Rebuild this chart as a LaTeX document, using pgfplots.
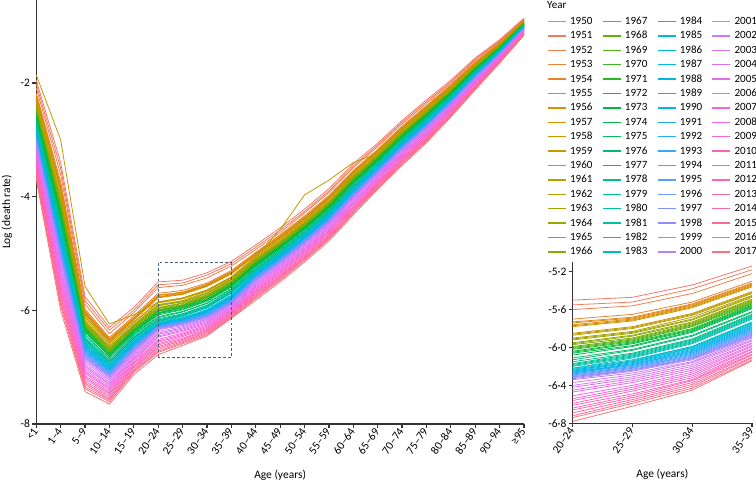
\documentclass[border=0pt]{standalone}
\usepackage{pgfplots}
\pgfplotsset{compat=1.18}
\usepackage{pgfplotstable}
\usepackage{fontspec}
\setmainfont{Carlito}

\definecolor{h0}{HTML}{F8766D}
\definecolor{h1}{HTML}{DE8C00}
\definecolor{h2}{HTML}{B79F00}
\definecolor{h3}{HTML}{7CAE00}
\definecolor{h4}{HTML}{00BA38}
\definecolor{h5}{HTML}{00C08B}
\definecolor{h6}{HTML}{00BFC4}
\definecolor{h7}{HTML}{00B4F0}
\definecolor{h8}{HTML}{619CFF}
\definecolor{h9}{HTML}{C77CFF}
\definecolor{h10}{HTML}{F564E3}
\definecolor{h11}{HTML}{FF64B0}
\definecolor{axc}{HTML}{333333}
\definecolor{boxc}{HTML}{48606E}

\foreach \i in {0,...,67}{%
  \pgfmathtruncatemacro{\yr}{1950+\i}%
  \pgfmathsetmacro{\pos}{\i*12/68}%
  \pgfmathtruncatemacro{\j}{floor(\pos)}%
  \pgfmathtruncatemacro{\k}{mod(\j+1,12)}%
  \pgfmathtruncatemacro{\pct}{round(100*(1+\j-\pos))}%
  \edef\tmp{\noexpand\xglobal\noexpand\colorlet{c\yr}{h\j!\pct!h\k}}\tmp
}

\pgfplotstableread{
x y1950 y1951 y1952 y1953 y1954 y1955 y1956 y1957 y1958 y1959 y1960 y1961 y1962 y1963 y1964 y1965 y1966 y1967 y1968 y1969 y1970 y1971 y1972 y1973 y1974 y1975 y1976 y1977 y1978 y1979 y1980 y1981 y1982 y1983 y1984 y1985 y1986 y1987 y1988 y1989 y1990 y1991 y1992 y1993 y1994 y1995 y1996 y1997 y1998 y1999 y2000 y2001 y2002 y2003 y2004 y2005 y2006 y2007 y2008 y2009 y2010 y2011 y2012 y2013 y2014 y2015 y2016 y2017
0 -1.95 -2.02 -2.09 -2.18 -2.21 -2.23 -2.25 -2.26 -2.28 -2.32 -1.86 -2.35 -2.39 -2.40 -2.42 -2.44 -2.46 -2.47 -2.49 -2.51 -2.53 -2.54 -2.56 -2.58 -2.60 -2.61 -2.65 -2.67 -2.70 -2.72 -2.74 -2.75 -2.77 -2.79 -2.81 -2.82 -2.84 -2.86 -2.88 -2.89 -2.91 -2.93 -2.95 -2.96 -2.98 -3.00 -3.02 -3.03 -3.05 -3.07 -3.09 -3.12 -3.16 -3.19 -3.23 -3.26 -3.30 -3.33 -3.37 -3.40 -3.44 -3.47 -3.51 -3.54 -3.58 -3.61 -3.65 -3.70
1 -3.40 -3.50 -3.61 -3.74 -3.79 -3.82 -3.84 -3.87 -3.89 -3.95 -3.00 -4.00 -4.05 -4.08 -4.10 -4.13 -4.15 -4.18 -4.21 -4.23 -4.26 -4.28 -4.31 -4.34 -4.36 -4.39 -4.44 -4.47 -4.52 -4.54 -4.57 -4.60 -4.62 -4.65 -4.67 -4.70 -4.73 -4.75 -4.78 -4.80 -4.83 -4.86 -4.88 -4.91 -4.93 -4.96 -4.99 -5.01 -5.04 -5.06 -5.09 -5.14 -5.19 -5.25 -5.30 -5.35 -5.40 -5.45 -5.51 -5.56 -5.61 -5.66 -5.71 -5.77 -5.82 -5.87 -5.92 -6.00
2 -5.76 -5.83 -5.89 -5.98 -6.01 -6.03 -6.04 -6.06 -6.08 -6.11 -5.58 -6.14 -6.18 -6.19 -6.21 -6.23 -6.24 -6.26 -6.28 -6.29 -6.31 -6.33 -6.34 -6.36 -6.38 -6.39 -6.43 -6.44 -6.48 -6.49 -6.51 -6.53 -6.54 -6.56 -6.58 -6.60 -6.61 -6.63 -6.65 -6.66 -6.68 -6.70 -6.71 -6.73 -6.75 -6.76 -6.78 -6.80 -6.81 -6.83 -6.85 -6.88 -6.91 -6.95 -6.98 -7.01 -7.05 -7.08 -7.11 -7.15 -7.18 -7.21 -7.25 -7.28 -7.31 -7.35 -7.38 -7.43
3 -6.30 -6.35 -6.41 -6.48 -6.50 -6.52 -6.53 -6.54 -6.56 -6.58 -6.24 -6.61 -6.64 -6.65 -6.66 -6.68 -6.69 -6.70 -6.72 -6.73 -6.75 -6.76 -6.77 -6.79 -6.80 -6.81 -6.84 -6.85 -6.88 -6.89 -6.91 -6.92 -6.93 -6.95 -6.96 -6.97 -6.99 -7.00 -7.02 -7.03 -7.04 -7.06 -7.07 -7.08 -7.10 -7.11 -7.12 -7.14 -7.15 -7.16 -7.18 -7.20 -7.23 -7.26 -7.29 -7.31 -7.34 -7.37 -7.39 -7.42 -7.45 -7.47 -7.50 -7.53 -7.56 -7.58 -7.61 -7.65
4 -5.95 -6.00 -6.04 -6.10 -6.13 -6.14 -6.15 -6.16 -6.17 -6.20 -6.08 -6.22 -6.25 -6.26 -6.27 -6.28 -6.29 -6.30 -6.32 -6.33 -6.34 -6.35 -6.36 -6.37 -6.39 -6.40 -6.42 -6.43 -6.46 -6.47 -6.48 -6.49 -6.50 -6.52 -6.53 -6.54 -6.55 -6.56 -6.58 -6.59 -6.60 -6.61 -6.62 -6.63 -6.65 -6.66 -6.67 -6.68 -6.69 -6.71 -6.72 -6.74 -6.76 -6.79 -6.81 -6.84 -6.86 -6.88 -6.91 -6.93 -6.95 -6.98 -7.00 -7.02 -7.05 -7.07 -7.09 -7.13
5 -5.50 -5.55 -5.60 -5.70 -5.73 -5.74 -5.76 -5.77 -5.78 -5.85 -5.86 -5.87 -5.90 -5.91 -5.92 -5.95 -5.96 -5.97 -5.99 -6.00 -6.01 -6.02 -6.04 -6.05 -6.06 -6.08 -6.11 -6.13 -6.15 -6.17 -6.18 -6.19 -6.20 -6.22 -6.22 -6.23 -6.24 -6.24 -6.25 -6.26 -6.26 -6.27 -6.27 -6.28 -6.29 -6.29 -6.30 -6.31 -6.31 -6.32 -6.33 -6.34 -6.37 -6.40 -6.42 -6.45 -6.47 -6.51 -6.54 -6.56 -6.59 -6.61 -6.64 -6.66 -6.69 -6.72 -6.74 -6.78
6 -5.47 -5.52 -5.56 -5.65 -5.68 -5.69 -5.70 -5.71 -5.72 -5.78 -5.79 -5.80 -5.83 -5.84 -5.85 -5.87 -5.88 -5.90 -5.91 -5.92 -5.93 -5.94 -5.95 -5.96 -5.98 -5.99 -6.02 -6.03 -6.06 -6.07 -6.08 -6.09 -6.10 -6.11 -6.13 -6.14 -6.15 -6.15 -6.16 -6.17 -6.18 -6.18 -6.19 -6.20 -6.21 -6.21 -6.22 -6.23 -6.24 -6.24 -6.25 -6.27 -6.29 -6.31 -6.33 -6.35 -6.37 -6.40 -6.42 -6.44 -6.46 -6.49 -6.51 -6.53 -6.55 -6.57 -6.59 -6.62
7 -5.34 -5.38 -5.43 -5.52 -5.54 -5.55 -5.56 -5.57 -5.58 -5.64 -5.65 -5.66 -5.68 -5.70 -5.71 -5.73 -5.74 -5.75 -5.76 -5.77 -5.78 -5.80 -5.81 -5.82 -5.83 -5.84 -5.87 -5.88 -5.91 -5.92 -5.93 -5.94 -5.95 -5.96 -5.99 -5.99 -6.00 -6.01 -6.02 -6.03 -6.04 -6.05 -6.06 -6.07 -6.08 -6.09 -6.10 -6.11 -6.11 -6.12 -6.13 -6.15 -6.16 -6.18 -6.20 -6.22 -6.24 -6.26 -6.28 -6.30 -6.32 -6.34 -6.35 -6.37 -6.39 -6.41 -6.43 -6.45
8 -5.14 -5.18 -5.22 -5.30 -5.32 -5.33 -5.34 -5.35 -5.36 -5.41 -5.42 -5.43 -5.45 -5.46 -5.47 -5.49 -5.50 -5.51 -5.52 -5.53 -5.54 -5.55 -5.56 -5.57 -5.58 -5.59 -5.62 -5.63 -5.65 -5.66 -5.67 -5.68 -5.69 -5.70 -5.73 -5.74 -5.75 -5.76 -5.77 -5.78 -5.79 -5.80 -5.81 -5.82 -5.83 -5.84 -5.85 -5.86 -5.87 -5.88 -5.89 -5.90 -5.92 -5.93 -5.95 -5.96 -5.98 -5.99 -6.01 -6.02 -6.04 -6.05 -6.07 -6.08 -6.10 -6.11 -6.13 -6.14
9 -4.85 -4.89 -4.93 -4.98 -5.00 -5.01 -5.01 -5.02 -5.03 -5.05 -5.06 -5.07 -5.09 -5.10 -5.11 -5.12 -5.13 -5.14 -5.15 -5.16 -5.17 -5.18 -5.19 -5.20 -5.21 -5.22 -5.24 -5.25 -5.27 -5.28 -5.29 -5.30 -5.31 -5.32 -5.33 -5.34 -5.34 -5.35 -5.36 -5.37 -5.38 -5.39 -5.40 -5.41 -5.42 -5.43 -5.44 -5.45 -5.46 -5.47 -5.48 -5.50 -5.52 -5.54 -5.56 -5.58 -5.60 -5.62 -5.64 -5.66 -5.67 -5.69 -5.71 -5.73 -5.75 -5.77 -5.79 -5.82
10 -4.55 -4.59 -4.63 -4.67 -4.69 -4.70 -4.71 -4.72 -4.73 -4.75 -4.58 -4.77 -4.79 -4.80 -4.81 -4.82 -4.83 -4.84 -4.84 -4.85 -4.86 -4.87 -4.88 -4.89 -4.90 -4.91 -4.93 -4.94 -4.96 -4.97 -4.98 -4.99 -5.00 -5.01 -5.02 -5.03 -5.03 -5.04 -5.05 -5.06 -5.07 -5.08 -5.09 -5.10 -5.11 -5.12 -5.13 -5.14 -5.15 -5.16 -5.17 -5.19 -5.21 -5.22 -5.24 -5.26 -5.28 -5.30 -5.32 -5.34 -5.36 -5.38 -5.40 -5.41 -5.43 -5.45 -5.47 -5.50
11 -4.22 -4.26 -4.29 -4.34 -4.36 -4.37 -4.38 -4.39 -4.40 -4.42 -3.97 -4.43 -4.45 -4.46 -4.47 -4.48 -4.49 -4.50 -4.51 -4.52 -4.53 -4.54 -4.55 -4.55 -4.56 -4.57 -4.59 -4.60 -4.62 -4.63 -4.64 -4.65 -4.66 -4.67 -4.68 -4.69 -4.69 -4.70 -4.71 -4.72 -4.73 -4.74 -4.75 -4.76 -4.77 -4.78 -4.79 -4.80 -4.81 -4.82 -4.82 -4.84 -4.86 -4.88 -4.90 -4.92 -4.94 -4.95 -4.97 -4.99 -5.01 -5.03 -5.05 -5.07 -5.08 -5.10 -5.12 -5.15
12 -3.86 -3.90 -3.93 -3.98 -4.00 -4.01 -4.02 -4.03 -4.03 -4.05 -3.71 -4.07 -4.09 -4.10 -4.11 -4.12 -4.13 -4.14 -4.15 -4.15 -4.16 -4.17 -4.18 -4.19 -4.20 -4.21 -4.23 -4.24 -4.26 -4.26 -4.27 -4.28 -4.29 -4.30 -4.31 -4.32 -4.33 -4.34 -4.35 -4.36 -4.37 -4.38 -4.38 -4.39 -4.40 -4.41 -4.42 -4.43 -4.44 -4.45 -4.46 -4.48 -4.49 -4.51 -4.53 -4.55 -4.57 -4.59 -4.61 -4.62 -4.64 -4.66 -4.68 -4.70 -4.72 -4.73 -4.75 -4.78
13 -3.42 -3.46 -3.49 -3.54 -3.56 -3.56 -3.57 -3.58 -3.59 -3.61 -3.40 -3.63 -3.65 -3.65 -3.66 -3.67 -3.68 -3.69 -3.70 -3.71 -3.72 -3.73 -3.74 -3.74 -3.75 -3.76 -3.78 -3.79 -3.81 -3.82 -3.83 -3.83 -3.84 -3.85 -3.86 -3.87 -3.88 -3.89 -3.90 -3.91 -3.92 -3.92 -3.93 -3.94 -3.95 -3.96 -3.97 -3.98 -3.99 -4.00 -4.01 -4.02 -4.04 -4.06 -4.08 -4.10 -4.11 -4.13 -4.15 -4.17 -4.19 -4.20 -4.22 -4.24 -4.26 -4.28 -4.29 -4.32
14 -3.06 -3.09 -3.12 -3.17 -3.18 -3.19 -3.20 -3.21 -3.21 -3.23 -3.24 -3.25 -3.26 -3.27 -3.28 -3.29 -3.29 -3.30 -3.31 -3.32 -3.33 -3.34 -3.34 -3.35 -3.36 -3.37 -3.38 -3.39 -3.41 -3.42 -3.42 -3.43 -3.44 -3.45 -3.46 -3.47 -3.47 -3.48 -3.49 -3.50 -3.51 -3.51 -3.52 -3.53 -3.54 -3.55 -3.55 -3.56 -3.57 -3.58 -3.59 -3.60 -3.62 -3.64 -3.65 -3.67 -3.68 -3.70 -3.72 -3.73 -3.75 -3.76 -3.78 -3.80 -3.81 -3.83 -3.85 -3.87
15 -2.66 -2.69 -2.72 -2.76 -2.78 -2.79 -2.79 -2.80 -2.81 -2.83 -2.83 -2.84 -2.86 -2.87 -2.87 -2.88 -2.89 -2.90 -2.90 -2.91 -2.92 -2.93 -2.94 -2.94 -2.95 -2.96 -2.98 -2.98 -3.00 -3.01 -3.02 -3.02 -3.03 -3.04 -3.05 -3.06 -3.06 -3.07 -3.08 -3.09 -3.09 -3.10 -3.11 -3.12 -3.13 -3.13 -3.14 -3.15 -3.16 -3.17 -3.17 -3.19 -3.21 -3.22 -3.24 -3.25 -3.27 -3.28 -3.30 -3.32 -3.33 -3.35 -3.36 -3.38 -3.39 -3.41 -3.43 -3.45
16 -2.30 -2.33 -2.36 -2.40 -2.41 -2.42 -2.43 -2.44 -2.44 -2.46 -2.47 -2.47 -2.49 -2.50 -2.50 -2.51 -2.52 -2.53 -2.53 -2.54 -2.55 -2.56 -2.56 -2.57 -2.58 -2.59 -2.60 -2.61 -2.62 -2.63 -2.64 -2.65 -2.65 -2.66 -2.67 -2.68 -2.68 -2.69 -2.70 -2.71 -2.71 -2.72 -2.73 -2.74 -2.74 -2.75 -2.76 -2.77 -2.77 -2.78 -2.79 -2.80 -2.82 -2.83 -2.85 -2.86 -2.88 -2.89 -2.91 -2.92 -2.94 -2.95 -2.97 -2.98 -3.00 -3.01 -3.03 -3.05
17 -1.95 -1.98 -2.00 -2.03 -2.05 -2.05 -2.06 -2.07 -2.07 -2.09 -2.09 -2.10 -2.11 -2.12 -2.13 -2.13 -2.14 -2.15 -2.15 -2.16 -2.16 -2.17 -2.18 -2.18 -2.19 -2.20 -2.21 -2.22 -2.23 -2.24 -2.24 -2.25 -2.26 -2.26 -2.27 -2.28 -2.28 -2.29 -2.29 -2.30 -2.31 -2.31 -2.32 -2.33 -2.33 -2.34 -2.35 -2.35 -2.36 -2.37 -2.37 -2.39 -2.40 -2.41 -2.42 -2.44 -2.45 -2.46 -2.48 -2.49 -2.50 -2.52 -2.53 -2.54 -2.55 -2.57 -2.58 -2.60
18 -1.56 -1.58 -1.60 -1.63 -1.64 -1.65 -1.66 -1.66 -1.67 -1.68 -1.68 -1.69 -1.70 -1.71 -1.71 -1.72 -1.72 -1.73 -1.73 -1.74 -1.74 -1.75 -1.76 -1.76 -1.77 -1.77 -1.78 -1.79 -1.80 -1.81 -1.81 -1.82 -1.82 -1.83 -1.83 -1.84 -1.85 -1.85 -1.86 -1.86 -1.87 -1.87 -1.88 -1.88 -1.89 -1.90 -1.90 -1.91 -1.91 -1.92 -1.92 -1.94 -1.95 -1.96 -1.97 -1.98 -1.99 -2.00 -2.01 -2.02 -2.04 -2.05 -2.06 -2.07 -2.08 -2.09 -2.10 -2.12
19 -1.24 -1.26 -1.27 -1.29 -1.30 -1.31 -1.31 -1.31 -1.32 -1.33 -1.33 -1.33 -1.34 -1.35 -1.35 -1.35 -1.36 -1.36 -1.37 -1.37 -1.38 -1.38 -1.38 -1.39 -1.39 -1.40 -1.40 -1.41 -1.42 -1.42 -1.42 -1.43 -1.43 -1.44 -1.44 -1.45 -1.45 -1.45 -1.46 -1.46 -1.47 -1.47 -1.47 -1.48 -1.48 -1.49 -1.49 -1.49 -1.50 -1.50 -1.51 -1.51 -1.52 -1.53 -1.54 -1.55 -1.56 -1.56 -1.57 -1.58 -1.59 -1.60 -1.60 -1.61 -1.62 -1.63 -1.64 -1.65
20 -0.86 -0.87 -0.88 -0.90 -0.90 -0.91 -0.91 -0.91 -0.92 -0.92 -0.93 -0.93 -0.93 -0.94 -0.94 -0.94 -0.95 -0.95 -0.95 -0.96 -0.96 -0.96 -0.96 -0.97 -0.97 -0.97 -0.98 -0.98 -0.99 -0.99 -0.99 -1.00 -1.00 -1.00 -1.01 -1.01 -1.01 -1.02 -1.02 -1.02 -1.02 -1.03 -1.03 -1.03 -1.04 -1.04 -1.04 -1.05 -1.05 -1.05 -1.05 -1.06 -1.07 -1.07 -1.08 -1.08 -1.09 -1.10 -1.10 -1.11 -1.11 -1.12 -1.13 -1.13 -1.14 -1.14 -1.15 -1.16
}\data

\pgfplotsset{
  myax/.style={
    scale only axis,
    axis x line*=bottom, axis y line*=left,
    axis line style={-, draw=axc, line width=0.9pt},
    tick align=outside, major tick length=3pt,
    tick style={axc, line width=0.9pt},
    ticklabel style={font=\fontsize{8.6}{10}\selectfont, text=black},
    xticklabel style={rotate=55, anchor=east, inner sep=1pt},
    yticklabel style={inner sep=1.5pt},
    label style={font=\fontsize{8.6}{10}\selectfont},
  }
}

\begin{document}
\begin{tikzpicture}
\path[use as bounding box] (0,0) rectangle (567pt,360.75pt);
\begin{axis}[myax,
  width=365.8pt, height=318pt,
  at={(27.2pt,42.75pt)}, anchor=south west,
  xmin=0, xmax=20, ymin=-8, ymax=-0.54,
  clip=false,
  xtick={0,...,20},
  xticklabels={<1,1–4,5–9,10–14,15–19,20–24,25–29,30–34,35–39,40–44,45–49,50–54,55–59,60–64,65–69,70–74,75–79,80–84,85–89,90–94,≥95},
  ytick={-8,-6,-4,-2}, yticklabels={-8,-6,-4,-2},
  xlabel={Age (years)}, ylabel={Log (death rate)},
  xlabel style={at={(axis description cs:0.5,-0.12)}, anchor=center},
  ylabel style={at={(axis description cs:-0.06,0.5)}, anchor=center},
  legend cell align=left,
  legend columns=4,
  legend image code/.code={\draw[#1] (0pt,0pt) -- (13.5pt,0pt);},
  legend style={draw=none, fill=none, inner sep=0pt,
    at={(1.047,0.964)}, anchor=north west,
    font=\fontsize{8.3}{9}\selectfont,
    nodes={inner sep=0.6pt, text height=6.2pt, text depth=1.6pt},
    row sep=1.8pt, column sep=2pt,
    /tikz/every even column/.append style={column sep=6.5pt}},
]
\pgfplotsinvokeforeach{1950,...,2017}{
  \addplot[c#1, line width=0.6pt, forget plot] table[x=x, y=y#1]{\data};
}
\pgfplotsforeachungrouped \n in {0,...,67}{%
  \pgfmathtruncatemacro{\yr}{1950+17*mod(\n,4)+floor(\n/4)}%
  \edef\tmp{\noexpand\addlegendimage{c\yr,line width=1.1pt}\noexpand\addlegendentry{\yr}}\tmp
}
\draw[boxc, dash pattern=on 2.2pt off 1.6pt, line width=0.8pt] (axis cs:5,-6.83) rectangle (axis cs:8,-5.16);
\node[anchor=west, font=\fontsize{8.3}{9}\selectfont, inner sep=0pt] at (axis description cs:1.047,0.988) {Year};
\end{axis}

\begin{axis}[myax,
  width=134.5pt, height=120.75pt,
  at={(429.5pt,43.3pt)}, anchor=south west,
  xmin=5, xmax=8, ymin=-6.8, ymax=-5.1,
  xtick={5,6,7,8}, xticklabels={20–24,25–29,30–34,35–39},
  ytick={-6.8,-6.4,-6.0,-5.6,-5.2}, yticklabels={-6·8,-6·4,-6·0,-5·6,-5·2},
  xlabel={Age (years)},
  xlabel style={at={(axis description cs:0.5,-0.32)}, anchor=center},
]
\pgfplotsinvokeforeach{1950,...,2017}{
  \addplot[c#1, line width=0.6pt, restrict x to domain=5:8] table[x=x, y=y#1]{\data};
}
\end{axis}
\end{tikzpicture}
\end{document}
